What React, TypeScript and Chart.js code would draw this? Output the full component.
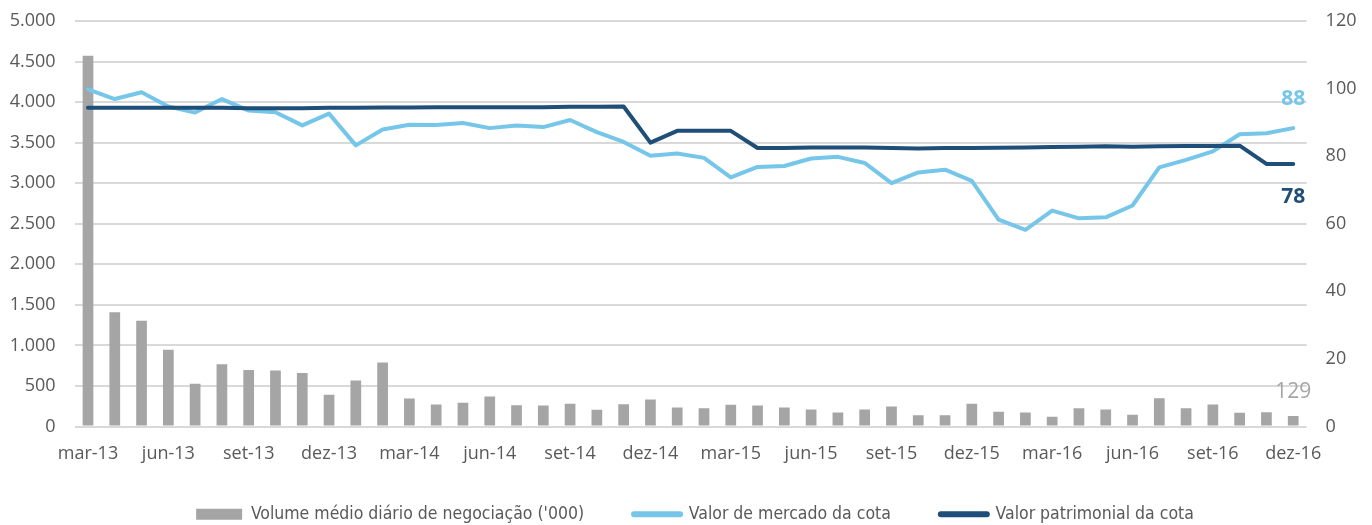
import { useEffect, useRef } from 'react';
import { Chart, registerables } from 'chart.js';

Chart.register(...registerables);

const categories = [
  'mar-13', 'abr-13', 'mai-13', 'jun-13', 'jul-13', 'ago-13', 'set-13', 'out-13', 'nov-13', 'dez-13',
  'jan-14', 'fev-14', 'mar-14', 'abr-14', 'mai-14', 'jun-14', 'jul-14', 'ago-14', 'set-14', 'out-14', 'nov-14', 'dez-14',
  'jan-15', 'fev-15', 'mar-15', 'abr-15', 'mai-15', 'jun-15', 'jul-15', 'ago-15', 'set-15', 'out-15', 'nov-15', 'dez-15',
  'jan-16', 'fev-16', 'mar-16', 'abr-16', 'mai-16', 'jun-16', 'jul-16', 'ago-16', 'set-16', 'out-16', 'nov-16', 'dez-16',
];

const volume = [
  4570, 1410, 1305, 945, 526, 768, 698, 690, 661, 390,
  567, 788, 345, 271, 292, 370, 263, 259, 279, 205,
  275, 333, 234, 226, 267, 259, 234, 209, 172, 209,
  246, 139, 139, 279, 181, 172, 119, 226, 209, 144,
  349, 226, 271, 169, 176, 129,
];

const marketValue = [
  99.8, 96.9, 98.9, 94.7, 92.9, 96.9, 93.5, 93.0, 89.1, 92.6,
  83.2, 87.9, 89.3, 89.2, 89.8, 88.3, 89.1, 88.6, 90.7, 87.1,
  84.2, 80.1, 80.8, 79.5, 73.7, 76.8, 77.1, 79.3, 79.8, 78.0,
  72.0, 75.2, 76.0, 72.7, 61.2, 58.2, 63.9, 61.6, 61.9, 65.4,
  76.7, 78.9, 81.4, 86.5, 86.8, 88.3,
];

const navValue = [
  94.3, 94.3, 94.3, 94.3, 94.3, 94.3, 94.2, 94.2, 94.2, 94.3,
  94.3, 94.4, 94.4, 94.5, 94.5, 94.5, 94.5, 94.5, 94.6, 94.6,
  94.7, 84.0, 87.5, 87.5, 87.5, 82.4, 82.4, 82.6, 82.6, 82.6,
  82.4, 82.3, 82.4, 82.4, 82.5, 82.6, 82.7, 82.8, 82.9, 82.8,
  82.9, 83.0, 83.0, 83.1, 77.7, 77.7,
];

const seriesNames = [
  "Volume médio diário de negociação ('000)",
  'Valor de mercado da cota',
  'Valor patrimonial da cota',
];

const COLORS = ['#A5A5A5', '#75C6E8', '#1F4E79'];
const TEXT = '#595959';
const FONT = "'Open Sans', 'Noto Sans', sans-serif";
const LEGEND_FONT = "'Liberation Sans Narrow', 'DejaVu Sans Condensed', 'Noto Sans', sans-serif";

const fmtThousands = (v: number) =>
  String(Math.round(v)).replace(/\B(?=(\d{3})+(?!\d))/g, '.');

const endLabels = {
  id: 'endLabels',
  afterDatasetsDraw(chart: any) {
    const ctx = chart.ctx;
    const cfg = [
      { ds: 0, dy: -24, color: COLORS[0], weight: 'normal' },
      { ds: 1, dy: -29, color: COLORS[1], weight: 'bold' },
      { ds: 2, dy: 33, color: COLORS[2], weight: 'bold' },
    ];
    cfg.forEach((c) => {
      const meta = chart.getDatasetMeta(c.ds);
      const data = chart.data.datasets[c.ds].data as number[];
      const last = data.length - 1;
      const el = meta.data[last];
      if (!el) return;
      ctx.save();
      ctx.font = `${c.weight} 21px ${FONT}`;
      ctx.fillStyle = c.color;
      ctx.textAlign = 'center';
      ctx.textBaseline = 'middle';
      ctx.fillText(String(Math.round(data[last])), el.x, el.y + c.dy);
      ctx.restore();
    });
  },
};

const layoutTweak = {
  id: 'layoutTweak',
  afterLayout(chart: any) {
    const l = chart.legend;
    if (l) {
      l.top += 8;
      l.bottom += 8;
      l.left += 9;
      l.right += 9;
    }
    const x = chart.scales.x;
    if (x) {
      x.bottom = chart.height;
      x.height = x.bottom - x.top;
    }
  },
};

const noPad = (s: any) => {
  s.paddingTop = 0;
  s.paddingBottom = 0;
};

export default function App() {
  const ref = useRef<HTMLCanvasElement | null>(null);

  useEffect(() => {
    if (!ref.current) return;
    const chart = new Chart(ref.current, {
      type: 'bar',
      data: {
        labels: categories,
        datasets: [
          {
            type: 'bar',
            label: seriesNames[0],
            data: volume,
            backgroundColor: COLORS[0],
            borderWidth: 0,
            yAxisID: 'y',
            barPercentage: 0.4,
            categoryPercentage: 1,
            order: 3,
          },
          {
            type: 'line',
            label: seriesNames[1],
            data: marketValue,
            borderColor: COLORS[1],
            backgroundColor: COLORS[1],
            borderWidth: 4,
            pointRadius: 0,
            tension: 0,
            borderCapStyle: 'round',
            borderJoinStyle: 'round',
            yAxisID: 'y1',
            order: 2,
          },
          {
            type: 'line',
            label: seriesNames[2],
            data: navValue,
            borderColor: COLORS[2],
            backgroundColor: COLORS[2],
            borderWidth: 4,
            pointRadius: 0,
            tension: 0,
            borderCapStyle: 'round',
            borderJoinStyle: 'round',
            yAxisID: 'y1',
            order: 1,
          },
        ] as any,
      },
      options: {
        animation: false,
        responsive: true,
        maintainAspectRatio: false,
        layout: { padding: { top: 21, left: 0, right: 0, bottom: 0 } },
        plugins: {
          tooltip: { enabled: false },
          legend: {
            position: 'bottom',
            labels: {
              usePointStyle: true,
              pointStyleWidth: 46,
              boxWidth: 46,
              boxHeight: 11,
              padding: 50,
              color: TEXT,
              font: { family: LEGEND_FONT, size: 17.5 },
              generateLabels: (chart: any) =>
                chart.data.datasets.map((ds: any, i: number) => ({
                  text: ds.label,
                  fillStyle: COLORS[i],
                  strokeStyle: COLORS[i],
                  fontColor: TEXT,
                  lineWidth: i === 0 ? 0 : 6,
                  lineCap: 'round',
                  pointStyle: i === 0 ? 'rect' : 'line',
                  hidden: false,
                  datasetIndex: i,
                })),
            },
          },
        },
        scales: {
          x: {
            type: 'category',
            offset: true,
            grid: { display: false, drawTicks: false },
            border: { display: false },
            afterFit: (s: any) => {
              s.height = 21;
            },
            ticks: {
              autoSkip: false,
              maxRotation: 0,
              minRotation: 0,
              padding: 17,
              color: TEXT,
              font: { family: FONT, size: 18 },
              callback: (_v: any, i: number) => (i % 3 === 0 ? categories[i] : ''),
            },
          },
          y: {
            type: 'linear',
            position: 'left',
            min: 0,
            max: 5000,
            afterFit: (s: any) => {
              s.width = 74.6;
              noPad(s);
            },
            grid: { color: '#D9D9D9', lineWidth: 2, drawTicks: false },
            border: { display: false },
            ticks: {
              stepSize: 500,
              padding: 19,
              color: TEXT,
              font: { family: FONT, size: 18 },
              callback: (v: any) => fmtThousands(Number(v)),
            },
          },
          y1: {
            type: 'linear',
            position: 'right',
            min: 0,
            max: 120,
            afterFit: (s: any) => {
              s.width = 65.4;
              noPad(s);
            },
            grid: { display: false, drawTicks: false },
            border: { display: false },
            ticks: {
              stepSize: 20,
              padding: 19,
              color: TEXT,
              font: { family: FONT, size: 18 },
            },
          },
        },
      },
      plugins: [endLabels, layoutTweak],
    });
    return () => chart.destroy();
  }, []);

  return (
    <div style={{ position: 'absolute', left: 0, top: 0, width: 1372, height: 525 }}>
      <canvas ref={ref} />
    </div>
  );
}
